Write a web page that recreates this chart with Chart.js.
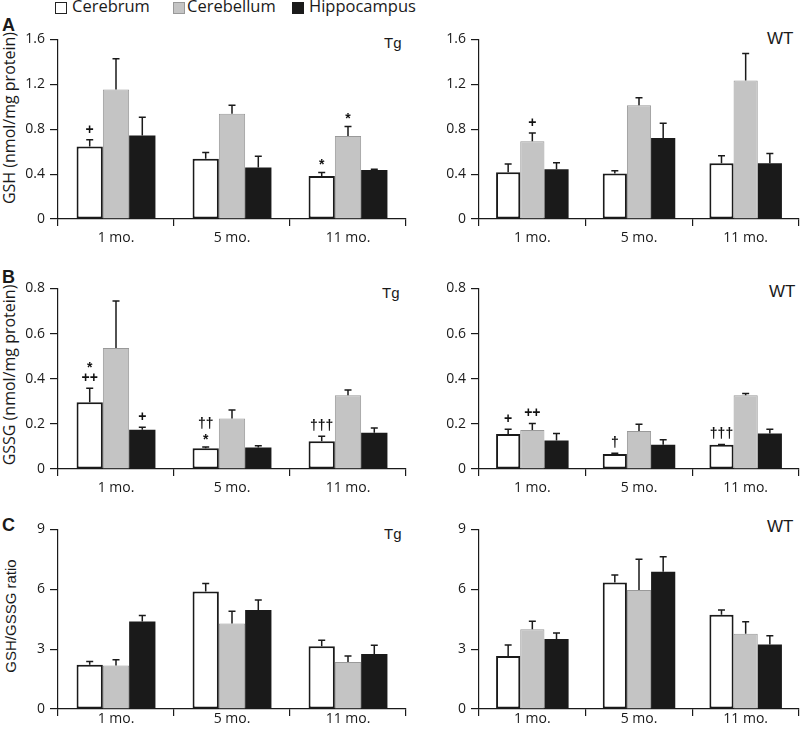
<!DOCTYPE html>
<html>
<head>
<meta charset="utf-8">
<script src="https://cdn.jsdelivr.net/npm/chart.js@4"></script>
<style>
  body { margin: 0; background: #fff; }
  #fig { position: relative; width: 800px; height: 732px; overflow: hidden;
         font-family: "Open Sans", sans-serif; color: #1a1a1a; }
  canvas { position: absolute; }
  .txt { position: absolute; white-space: nowrap; line-height: 1; }
  .box { position: absolute; width: 10px; height: 10px; }
  .ytitle { position: absolute; white-space: nowrap; line-height: 1; font-size: 16px;
            transform: translate(-50%, -50%) rotate(-90deg); }
  .letter { font-family: "Liberation Sans", Arial, sans-serif; font-weight: bold; font-size: 18px; }
  .grp { font-family: "Liberation Sans", Arial, sans-serif; }
</style>
</head>
<body>
<div id="fig">
  <!-- legend -->
  <div class="box" style="left:55px;top:2px;background:#fff;border:1.5px solid #222;"></div>
  <div class="txt" style="left:72px;top:-2px;font-size:16.5px;">Cerebrum</div>
  <div class="box" style="left:173px;top:2px;background:#c4c4c4;border:1px solid #999;"></div>
  <div class="txt" style="left:187px;top:-2px;font-size:16.5px;">Cerebellum</div>
  <div class="box" style="left:292px;top:2px;background:#1a1a1a;border:1.5px solid #1a1a1a;"></div>
  <div class="txt" style="left:309px;top:-2px;font-size:16.5px;">Hippocampus</div>

  <div class="txt letter" style="left:2px;top:16px;">A</div>
  <div class="txt letter" style="left:2px;top:268px;">B</div>
  <div class="txt letter" style="left:2px;top:516px;">C</div>

  <div class="ytitle" style="left:9px;top:118px;">GSH (nmol/mg protein)</div>
  <div class="ytitle" style="left:9px;top:375px;">GSSG (nmol/mg protein)</div>
  <div class="ytitle grp" style="left:10px;top:616px;font-size:15px;">GSH/GSSG ratio</div>

  <div class="txt grp" style="left:384px;top:35px;font-size:15px;">Tg</div>
  <div class="txt grp" style="left:767px;top:30px;font-size:17px;">WT</div>
  <div class="txt grp" style="left:382px;top:285px;font-size:15px;">Tg</div>
  <div class="txt grp" style="left:769px;top:283px;font-size:17px;">WT</div>
  <div class="txt grp" style="left:384px;top:526px;font-size:15px;">Tg</div>
  <div class="txt grp" style="left:767px;top:518px;font-size:17px;">WT</div>

  <canvas id="aTg" width="410" height="223" style="left:0;top:26px;"></canvas>
  <canvas id="aWt" width="400" height="223" style="left:400px;top:26px;"></canvas>
  <canvas id="bTg" width="410" height="224" style="left:0;top:275px;"></canvas>
  <canvas id="bWt" width="400" height="224" style="left:400px;top:275px;"></canvas>
  <canvas id="cTg" width="410" height="216" style="left:0;top:516px;"></canvas>
  <canvas id="cWt" width="400" height="216" style="left:400px;top:516px;"></canvas>
</div>

<script>
// categories and series
const months = ['1 mo.', '5 mo.', '11 mo.'];
const regions = ['Cerebrum', 'Cerebellum', 'Hippocampus'];

// y tick labels
const gshTicks = [0, 0.4, 0.8, 1.2, 1.6];
const gssgTicks = [0, 0.2, 0.4, 0.6, 0.8];
const ratioTicks = [0, 3, 6, 9];

// rows = Cerebrum, Cerebellum, Hippocampus ; columns = 1, 5, 11 mo.
const gshTg    = [[0.646, 0.537, 0.382], [1.154, 0.937, 0.740], [0.743, 0.458, 0.437]];
const gshTgErr = [[0.060, 0.056, 0.032], [0.273, 0.076, 0.085], [0.164, 0.100, 0.006]];
const gshWt    = [[0.417, 0.405, 0.496], [0.693, 1.013, 1.233], [0.443, 0.722, 0.496]];
const gshWtErr = [[0.073, 0.024, 0.068], [0.073, 0.067, 0.241], [0.059, 0.132, 0.088]];

const gssgTg    = [[0.296, 0.092, 0.123], [0.536, 0.224, 0.327], [0.174, 0.095, 0.161]];
const gssgTgErr = [[0.062, 0.005, 0.022], [0.208, 0.037, 0.023], [0.011, 0.008, 0.021]];
const gssgWt    = [[0.155, 0.066, 0.107], [0.173, 0.168, 0.327], [0.126, 0.107, 0.157]];
const gssgWtErr = [[0.021, 0.004, 0.002], [0.028, 0.030, 0.007], [0.031, 0.023, 0.019]];

const ratioTg    = [[2.22, 5.89, 3.14], [2.18, 4.29, 2.35], [4.38, 4.96, 2.76]];
const ratioTgErr = [[0.16, 0.40, 0.30], [0.29, 0.61, 0.30], [0.30, 0.50, 0.43]];
const ratioWt    = [[2.66, 6.34, 4.72], [4.00, 5.96, 3.77], [3.51, 6.88, 3.23]];
const ratioWtErr = [[0.55, 0.38, 0.24], [0.40, 1.55, 0.60], [0.30, 0.75, 0.44]];

// significance marks above the error bars (lines listed top to bottom)
const gshTgMarks  = [[['+'], [], ['*']], [[], [], ['*']], [[], [], []]];
const gshWtMarks  = [[[], [], []], [['+'], [], []], [[], [], []]];
const gssgTgMarks = [[['*', '++'], ['††', '*'], ['†††']], [[], [], []], [['+'], [], []]];
const gssgWtMarks = [[['+'], ['†'], ['†††']], [['++'], [], []], [[], [], []]];
const noMarks     = [[[], [], []], [[], [], []], [[], [], []]];

const barStyles = [
  { backgroundColor: '#ffffff', borderColor: '#1a1a1a', borderWidth: 2 },
  { backgroundColor: '#c4c4c4', borderColor: '#999999', borderWidth: 1 },
  { backgroundColor: '#1a1a1a', borderColor: '#1a1a1a', borderWidth: 0 }
];

Chart.defaults.font.family = "'Open Sans', sans-serif";
Chart.defaults.font.size = 14;
Chart.defaults.color = '#1a1a1a';

// error bars (upper only) plus the significance symbols
const errorBars = {
  id: 'errorBars',
  afterDatasetsDraw(chart) {
    const ctx = chart.ctx;
    const y = chart.scales.y;
    ctx.save();
    ctx.strokeStyle = '#1a1a1a';
    ctx.fillStyle = '#111';
    ctx.lineWidth = 1.5;
    ctx.font = 'bold 14px "Liberation Sans", Arial, sans-serif';
    ctx.textAlign = 'center';
    ctx.textBaseline = 'middle';
    chart.data.datasets.forEach((ds, i) => {
      chart.getDatasetMeta(i).data.forEach((bar, j) => {
        const top = y.getPixelForValue(ds.data[j]);
        const end = y.getPixelForValue(ds.data[j] + ds.errors[j]);
        ctx.beginPath();
        ctx.moveTo(bar.x, top);
        ctx.lineTo(bar.x, end);
        ctx.moveTo(bar.x - 3.5, end);
        ctx.lineTo(bar.x + 3.5, end);
        ctx.stroke();
        const lines = ds.marks[j];
        lines.forEach((s, k) => {
          let yy = end - 10 - (lines.length - 1 - k) * 13;
          if (s === '*') yy += 3;
          ctx.fillText(s, bar.x, yy);
        });
      });
    });
    ctx.restore();
  }
};

function makePanel(id, means, errs, marks, ticks, yWidth, xHeight, tickPad, padRight) {
  const datasets = regions.map((name, r) => Object.assign({
    label: name,
    data: means[r],
    errors: errs[r],
    marks: marks[r],
    borderSkipped: false,
    categoryPercentage: 0.68,
    barPercentage: 1.0
  }, barStyles[r]));

  return new Chart(document.getElementById(id), {
    type: 'bar',
    data: { labels: months, datasets },
    options: {
      responsive: false,
      animation: false,
      devicePixelRatio: 1,
      layout: { padding: { top: 12, left: 0, right: padRight, bottom: 0 } },
      plugins: { legend: { display: false }, tooltip: { enabled: false } },
      scales: {
        x: {
          grid: { drawOnChartArea: false, tickLength: 7, color: '#1a1a1a', lineWidth: 1.2 },
          border: { color: '#1a1a1a', width: 1.2 },
          ticks: { padding: tickPad, color: '#1a1a1a' },
          afterFit(scale) { scale.height = xHeight; }
        },
        y: {
          min: ticks[0],
          max: ticks[ticks.length - 1],
          grid: { drawOnChartArea: false, tickLength: 8, color: '#1a1a1a', lineWidth: 1.2 },
          border: { color: '#1a1a1a', width: 1.2 },
          ticks: { padding: 5, color: '#1a1a1a' },
          afterBuildTicks(scale) { scale.ticks = ticks.map(v => ({ value: v })); },
          afterFit(scale) { scale.width = yWidth; }
        }
      }
    },
    plugins: [errorBars]
  });
}

makePanel('aTg', gshTg, gshTgErr, gshTgMarks, gshTicks, 58, 30, 4, 4);
makePanel('aWt', gshWt, gshWtErr, gshWtMarks, gshTicks, 79, 30, 4, 1);
makePanel('bTg', gssgTg, gssgTgErr, gssgTgMarks, gssgTicks, 58, 30, 4, 4);
makePanel('bWt', gssgWt, gssgWtErr, gssgWtMarks, gssgTicks, 79, 30, 4, 1);
makePanel('cTg', ratioTg, ratioTgErr, noMarks, ratioTicks, 58, 23, -5, 4);
makePanel('cWt', ratioWt, ratioWtErr, noMarks, ratioTicks, 79, 23, -5, 1);
</script>
</body>
</html>
